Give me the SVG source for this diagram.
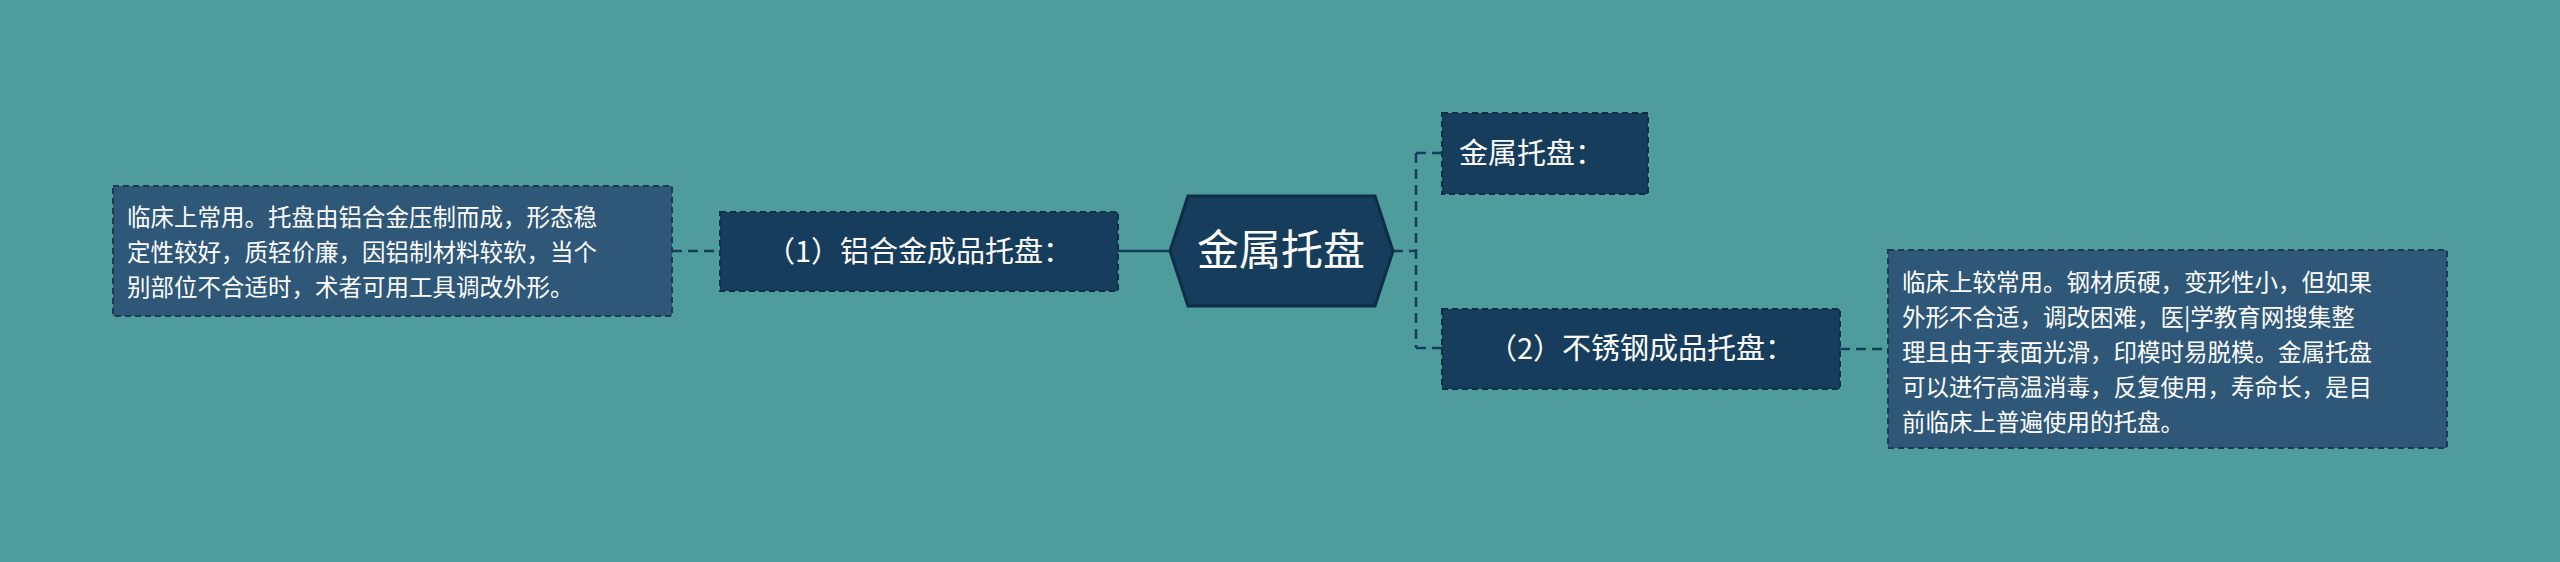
<svg xmlns="http://www.w3.org/2000/svg" width="2560" height="562" viewBox="0 0 2560 562">
<style>
.bg{fill:#4e9c9c}
.n{fill:#173d5c;stroke:#0f2d45;stroke-width:2;stroke-dasharray:6 4}
.d{fill:#2e5778;stroke:#1c3a55;stroke-width:2;stroke-dasharray:6 4}
text{fill:#fff;font-family:"Noto Sans CJK SC","Noto Sans",sans-serif}
.t{font-size:29px}
.s{font-size:23.5px}
.c{fill:none;stroke:#173d5c;stroke-width:2.5;stroke-dasharray:10 6}
</style>
<rect class="bg" width="2560" height="562"/>
<g id="connectors">
<path class="c" d="M1117 251H1170" style="stroke-dasharray:none"/>
<path class="c" d="M672 251H720"/>
<path class="c" d="M1393 251H1416"/>
<path class="c" d="M1416 153V348"/>
<path class="c" d="M1416 153H1442M1416 348H1442"/>
<path class="c" d="M1840 349H1888"/>
</g>
<g id="root">
<polygon points="1170,251 1188,196 1375,196 1393,251 1375,306 1188,306" fill="#173d5c" stroke="#0f2d45" stroke-width="3"/>
<text x="1281" y="265" font-size="42" text-anchor="middle">金属托盘</text>
</g>
<g id="n1">
<rect class="n" x="720" y="212" width="398" height="79"/>
<text class="t" x="919" y="262" text-anchor="middle">（1）铝合金成品托盘：</text>
</g>
<g id="d1">
<rect class="d" x="113" y="186" width="559" height="130"/>
<text class="s" x="127" y="226">临床上常用。托盘由铝合金压制而成，形态稳</text>
<text class="s" x="127" y="261">定性较好，质轻价廉，因铝制材料较软，当个</text>
<text class="s" x="127" y="296">别部位不合适时，术者可用工具调改外形。</text>
</g>
<g id="n0">
<rect class="n" x="1442" y="113" width="206" height="81"/>
<text class="t" x="1459" y="164">金属托盘：</text>
</g>
<g id="n2">
<rect class="n" x="1442" y="309" width="398" height="80"/>
<text class="t" x="1641" y="359" text-anchor="middle">（2）不锈钢成品托盘：</text>
</g>
<g id="d2">
<rect class="d" x="1888" y="250" width="559" height="198"/>
<text class="s" x="1902" y="291">临床上较常用。钢材质硬，变形性小，但如果</text>
<text class="s" x="1902" y="326">外形不合适，调改困难，医|学教育网搜集整</text>
<text class="s" x="1902" y="361">理且由于表面光滑，印模时易脱模。金属托盘</text>
<text class="s" x="1902" y="396">可以进行高温消毒，反复使用，寿命长，是目</text>
<text class="s" x="1902" y="431">前临床上普遍使用的托盘。</text>
</g>
</svg>
